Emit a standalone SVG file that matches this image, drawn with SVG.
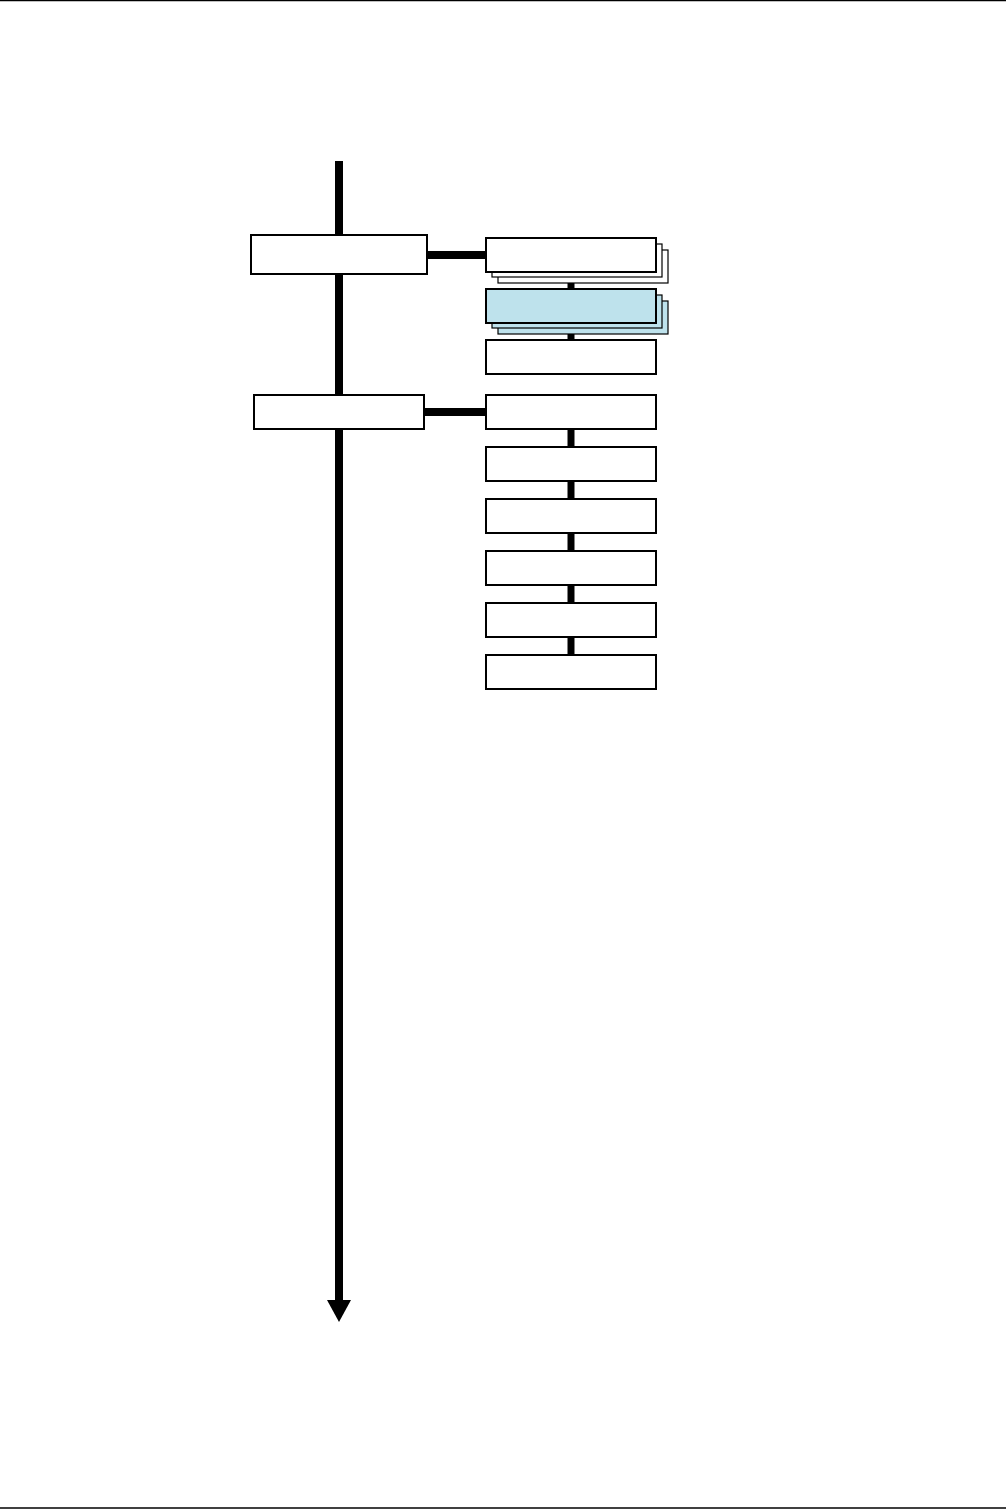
<svg xmlns="http://www.w3.org/2000/svg" width="1006" height="1509" viewBox="0 0 1006 1509">
<style>
.box{fill:#fff;stroke:#000;stroke-width:2}
.back{fill:#fff;stroke:#000;stroke-width:1.2}
.blue{fill:#bee2ec}
.conn{stroke:#000;fill:none}
</style>
<defs>
<marker id="arr" markerWidth="3" markerHeight="3" refX="0" refY="1.5" orient="auto" markerUnits="strokeWidth">
<path d="M0,0 L3,1.5 L0,3 Z" fill="#000"/>
</marker>
</defs>
<rect width="1006" height="1509" fill="#fff"/>
<line x1="0" y1="0.5" x2="1006" y2="0.5" stroke="#000" stroke-width="1.5"/>
<line x1="0" y1="1508" x2="1006" y2="1508" stroke="#000" stroke-width="1.5"/>
<g id="connectors">
<line class="conn" x1="339" y1="161" x2="339" y2="1301" stroke-width="8"/>
<polygon points="327,1300 351,1300 339,1322" fill="#000"/>
<line class="conn" x1="427" y1="255" x2="487" y2="255" stroke-width="8"/>
<line class="conn" x1="424" y1="412" x2="487" y2="412" stroke-width="8"/>
<line class="conn" x1="571" y1="272" x2="571" y2="290" stroke-width="7"/>
<line class="conn" x1="571" y1="323" x2="571" y2="341" stroke-width="7"/>
<line class="conn" x1="571" y1="429" x2="571" y2="448" stroke-width="7"/>
<line class="conn" x1="571" y1="481" x2="571" y2="500" stroke-width="7"/>
<line class="conn" x1="571" y1="533" x2="571" y2="552" stroke-width="7"/>
<line class="conn" x1="571" y1="585" x2="571" y2="604" stroke-width="7"/>
<line class="conn" x1="571" y1="637" x2="571" y2="656" stroke-width="7"/>
</g>
<g id="node-left1"><rect class="box" x="251" y="235" width="176" height="39"/></g>
<g id="node-left2"><rect class="box" x="254" y="395" width="170" height="34"/></g>
<g id="node-a">
<rect class="back" x="498" y="250" width="170" height="33"/>
<rect class="back" x="492" y="244" width="170" height="33"/>
<rect class="box" x="486" y="238" width="170" height="34"/>
</g>
<g id="node-b">
<rect class="back blue" x="498" y="301" width="170" height="33"/>
<rect class="back blue" x="492" y="295" width="170" height="33"/>
<rect class="box blue" x="486" y="289" width="170" height="34"/>
</g>
<g id="node-c"><rect class="box" x="486" y="340" width="170" height="34"/></g>
<g id="node-d"><rect class="box" x="486" y="395" width="170" height="34"/></g>
<g id="node-e"><rect class="box" x="486" y="447" width="170" height="34"/></g>
<g id="node-f"><rect class="box" x="486" y="499" width="170" height="34"/></g>
<g id="node-g"><rect class="box" x="486" y="551" width="170" height="34"/></g>
<g id="node-h"><rect class="box" x="486" y="603" width="170" height="34"/></g>
<g id="node-i"><rect class="box" x="486" y="655" width="170" height="34"/></g>
</svg>
